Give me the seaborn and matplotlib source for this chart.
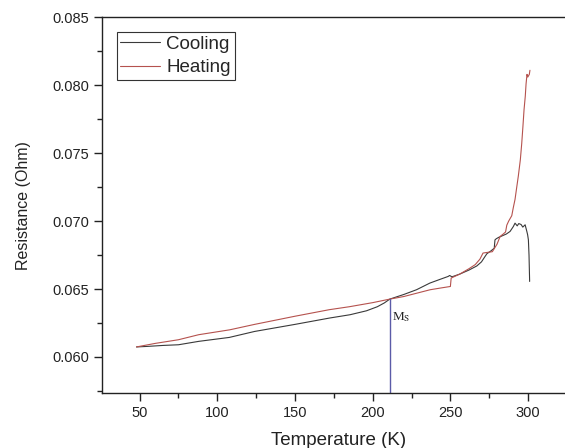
import numpy as np
import pandas as pd
import matplotlib
matplotlib.use("Agg")
import matplotlib.pyplot as plt
from matplotlib.ticker import AutoMinorLocator
import seaborn as sns

# ---- data ----
heat_T = [48, 60, 75, 88, 108, 124, 150, 172, 185, 200, 211, 220, 237, 245, 250, 250.5,
          256, 262, 266, 269, 271, 274, 277, 280, 282, 284, 285.5, 286.3, 287.5, 289.5,
          290.5, 291.6, 292.7, 293.7, 295.0, 295.9, 296.7, 297.4, 298.2, 298.7, 299.3,
          299.8, 300.3, 300.8, 301.2]
heat_R = [0.06074, 0.06100, 0.06127, 0.06164, 0.06200, 0.06240, 0.06300, 0.06348, 0.06370,
          0.06400, 0.06426, 0.06445, 0.06495, 0.06510, 0.06519, 0.06581,
          0.06610, 0.06650, 0.06680, 0.06720, 0.06765, 0.06770, 0.06775, 0.06830, 0.06887,
          0.06905, 0.06920, 0.06970, 0.07000, 0.07040,
          0.07100, 0.07160, 0.07250, 0.07330, 0.07450, 0.07570, 0.07700, 0.07820, 0.07920,
          0.08010, 0.08080, 0.08060, 0.08070, 0.08080, 0.08110]

cool_T = [301.0, 300.6, 300.2, 299.7, 299.2, 298.1, 296.6, 295.5, 294.0, 293.0, 291.6,
          290.5, 288.4, 286.0, 283.0, 281.0, 279.5, 278.7, 278.2, 276.0, 273.5, 272.3,
          270.0, 267.0, 262.0, 256.0, 251.0, 249.5, 248.6, 243.0, 236.8, 228.2, 220.0,
          211.0, 207.5, 203.0, 196.0, 185.4, 172.4, 150.0, 124.0, 107.7, 88.0, 75.0, 65.0,
          55.0, 48.0]
cool_R = [0.06556, 0.06750, 0.06862, 0.06900, 0.06924, 0.06973, 0.06956, 0.06975, 0.06982,
          0.06965, 0.06985, 0.06960, 0.06924, 0.06905, 0.06890, 0.06880, 0.06870, 0.06862,
          0.06800, 0.06780, 0.06760, 0.06740, 0.06700, 0.06670, 0.06640, 0.06610, 0.06590,
          0.06600, 0.06593, 0.06570, 0.06544, 0.06495, 0.06460, 0.06426, 0.06398, 0.06370,
          0.06340, 0.06311, 0.06287, 0.06240, 0.06188, 0.06144, 0.06115, 0.06090, 0.06085,
          0.06078, 0.06074]

ms_T = 211.0
ms_R = 0.06426

x_ticks = [50, 100, 150, 200, 250, 300]
y_ticks = [0.060, 0.065, 0.070, 0.075, 0.080, 0.085]

cool_df = pd.DataFrame({"T": cool_T, "R": cool_R})
heat_df = pd.DataFrame({"T": heat_T, "R": heat_R})

# ---- style ----
sns.set_theme(style="ticks")
plt.rcParams["font.family"] = ["Liberation Sans", "DejaVu Sans"]
plt.rcParams["mathtext.fontset"] = "stix"

fig = plt.figure(figsize=(5.65, 4.48), dpi=100)
ax = fig.add_axes([101.7 / 565, 55 / 448, 473 / 565, 375.7 / 448])

cool_c = "#3a3a3a"
heat_c = "#b5524e"

sns.lineplot(data=cool_df, x="T", y="R", sort=False, color=cool_c, lw=0.8,
             label="Cooling", ax=ax, estimator=None)
sns.lineplot(data=heat_df, x="T", y="R", sort=False, color=heat_c, lw=0.8,
             label="Heating", ax=ax, estimator=None)

ylo, yhi = 0.05735, 0.085
ax.set_xlim(25.6, 330)
ax.set_ylim(ylo, yhi)

ax.plot([ms_T, ms_T], [ylo, ms_R], color="#5b5ba8", lw=1.0)
ax.text(ms_T + 1.2, ms_R - 0.0013, r"M$_\mathrm{S}$", fontsize=9.5,
        family="Liberation Serif", color="#222222", va="center", ha="left")

ax.set_xticks(x_ticks)
ax.set_yticks(y_ticks)
ax.set_yticklabels([f"{v:.3f}" for v in y_ticks])
ax.xaxis.set_minor_locator(AutoMinorLocator(2))
ax.yaxis.set_minor_locator(AutoMinorLocator(2))
ax.tick_params(axis="both", which="major", direction="out", length=6, width=1,
               labelsize=10.5, color="#222222", labelcolor="#222222", pad=3)
ax.tick_params(axis="both", which="minor", direction="out", length=3.5, width=1,
               color="#222222")

for s in ["left", "bottom", "top"]:
    ax.spines[s].set_visible(True)
    ax.spines[s].set_color("#222222")
    ax.spines[s].set_linewidth(1.0)
ax.spines["right"].set_visible(False)

ax.set_xlabel("Temperature (K)", fontsize=13.5, color="#222222", labelpad=9)
ax.set_ylabel("Resistance (Ohm)", fontsize=11.5, color="#222222", labelpad=15)

leg = ax.legend(loc="upper left", bbox_to_anchor=(116.7 / 565, 1 - 31.7 / 448),
                bbox_transform=fig.transFigure, borderaxespad=0, fontsize=13.5,
                frameon=True, fancybox=False, edgecolor="#333333", framealpha=1,
                handlelength=2.1, handletextpad=0.35, labelspacing=0.35,
                borderpad=0.2)
leg.get_frame().set_linewidth(0.8)
for line in leg.get_lines():
    line.set_linewidth(0.8)

fig.savefig("out.png", dpi=100)
